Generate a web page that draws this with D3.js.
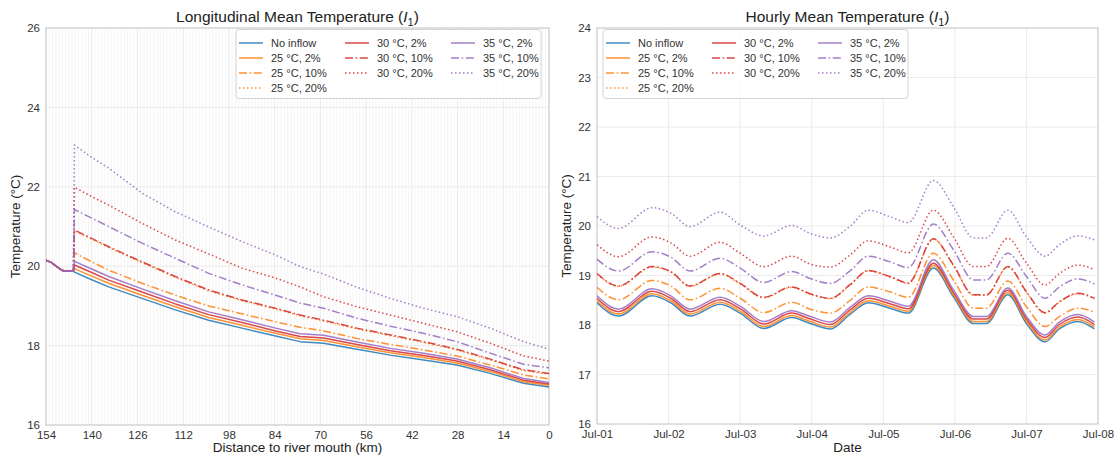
<!DOCTYPE html>
<html>
<head>
<meta charset="utf-8">
<script src="https://cdn.jsdelivr.net/npm/d3@7"></script>
<style>
  body { margin: 0; background: #fff; }
  svg { display: block; font-family: "Liberation Sans", Arial, sans-serif; }
</style>
</head>
<body>
<svg id="chart" width="1115" height="455"></svg>
<script>
// ---------- Series labels ----------
const seriesNames = [
  "No inflow", "25 °C, 2%", "25 °C, 10%", "25 °C, 20%",
  "30 °C, 2%", "30 °C, 10%", "30 °C, 20%",
  "35 °C, 2%", "35 °C, 10%", "35 °C, 20%"
];

// ---------- Longitudinal profile (distance to river mouth, km) ----------
const distanceKm = [154, 152.3, 150.7, 149.2, 147.9, 146.4, 145.6, 145.3, 140, 134.8, 124.6, 114.4, 104.2, 94.0, 83.7, 76.2, 69.0, 58.8, 48.6, 38.4, 28.2, 18.0, 7.8, 0];

const lonNoInflow = [20.15, 20.09, 19.99, 19.90, 19.87, 19.87, 19.88, 19.85, 19.66, 19.48, 19.19, 18.90, 18.64, 18.44, 18.24, 18.10, 18.06, 17.91, 17.76, 17.64, 17.51, 17.30, 17.05, 16.96];
const lon25_2  = [20.15, 20.09, 19.99, 19.90, 19.87, 19.87, 19.88, 19.94, 19.75, 19.57, 19.27, 18.98, 18.71, 18.51, 18.31, 18.17, 18.13, 17.97, 17.82, 17.70, 17.56, 17.35, 17.09, 17.00];
const lon25_10 = [20.15, 20.09, 19.99, 19.90, 19.87, 19.87, 19.88, 20.34, 20.11, 19.90, 19.57, 19.27, 19.00, 18.80, 18.60, 18.46, 18.37, 18.18, 18.03, 17.89, 17.74, 17.51, 17.26, 17.16];
const lon25_20 = [20.15, 20.09, 19.99, 19.90, 19.87, 19.87, 19.88, 20.89, 20.68, 20.47, 20.09, 19.72, 19.38, 19.13, 18.92, 18.75, 18.62, 18.42, 18.25, 18.08, 17.89, 17.64, 17.37, 17.28];
const lon30_2  = [20.15, 20.09, 19.99, 19.90, 19.87, 19.87, 19.88, 20.03, 19.84, 19.65, 19.35, 19.05, 18.78, 18.58, 18.37, 18.23, 18.19, 18.03, 17.87, 17.75, 17.61, 17.39, 17.13, 17.03];
const lon30_10 = [20.15, 20.09, 19.99, 19.90, 19.87, 19.87, 19.88, 20.91, 20.70, 20.49, 20.11, 19.74, 19.40, 19.15, 18.94, 18.77, 18.64, 18.44, 18.27, 18.10, 17.91, 17.66, 17.39, 17.30];
const lon30_20 = [20.15, 20.09, 19.99, 19.90, 19.87, 19.87, 19.88, 21.99, 21.75, 21.54, 21.08, 20.66, 20.31, 19.95, 19.70, 19.48, 19.23, 18.98, 18.77, 18.56, 18.35, 18.06, 17.74, 17.61];
const lon35_2  = [20.15, 20.09, 19.99, 19.90, 19.87, 19.87, 19.88, 20.12, 19.93, 19.74, 19.43, 19.13, 18.85, 18.65, 18.44, 18.30, 18.26, 18.09, 17.93, 17.81, 17.66, 17.44, 17.17, 17.07];
const lon35_10 = [20.15, 20.09, 19.99, 19.90, 19.87, 19.87, 19.88, 21.43, 21.21, 21.00, 20.58, 20.20, 19.82, 19.53, 19.27, 19.07, 18.94, 18.69, 18.49, 18.31, 18.10, 17.81, 17.53, 17.44];
const lon35_20 = [20.15, 20.09, 19.99, 19.90, 19.87, 19.87, 19.88, 23.05, 22.74, 22.47, 21.84, 21.37, 20.99, 20.62, 20.28, 19.99, 19.80, 19.47, 19.19, 18.94, 18.73, 18.44, 18.10, 17.91];

// ---------- Hourly series (days since Jul-01 00:00) ----------
const dateDays = [0, 0.30, 0.77, 1.03, 1.30, 1.72, 2.00, 2.33, 2.72, 2.98, 3.26, 3.54, 3.79, 4.09, 4.35, 4.70, 4.98, 5.26, 5.44, 5.74, 6.00, 6.26, 6.46, 6.72, 6.95];

const hrNoInflow = [18.45, 18.18, 18.59, 18.45, 18.18, 18.42, 18.24, 17.93, 18.15, 18.03, 17.92, 18.22, 18.45, 18.34, 18.24, 19.15, 18.57, 18.03, 18.03, 18.61, 18.03, 17.66, 17.92, 18.07, 17.92];
const hr25_2  = [18.49, 18.22, 18.63, 18.49, 18.22, 18.46, 18.28, 17.97, 18.19, 18.07, 17.96, 18.26, 18.49, 18.38, 18.28, 19.20, 18.61, 18.07, 18.07, 18.65, 18.07, 17.70, 17.96, 18.11, 17.96];
const hr25_10 = [18.76, 18.51, 18.90, 18.79, 18.51, 18.74, 18.54, 18.25, 18.46, 18.32, 18.24, 18.50, 18.77, 18.67, 18.56, 19.45, 18.91, 18.34, 18.34, 18.89, 18.37, 17.97, 18.17, 18.34, 18.26];
const hr25_20 = [19.03, 18.78, 19.17, 19.07, 18.78, 19.03, 18.83, 18.55, 18.76, 18.62, 18.53, 18.81, 19.09, 18.97, 18.84, 19.73, 19.20, 18.60, 18.60, 19.17, 18.66, 18.24, 18.46, 18.63, 18.53];
const hr30_2  = [18.54, 18.27, 18.68, 18.54, 18.27, 18.51, 18.33, 18.02, 18.24, 18.12, 18.01, 18.31, 18.54, 18.43, 18.33, 19.25, 18.66, 18.12, 18.12, 18.70, 18.12, 17.75, 18.01, 18.16, 18.01];
const hr30_10 = [19.04, 18.79, 19.18, 19.08, 18.79, 19.04, 18.84, 18.56, 18.77, 18.63, 18.54, 18.82, 19.10, 18.98, 18.85, 19.74, 19.21, 18.61, 18.61, 19.18, 18.67, 18.25, 18.47, 18.64, 18.54];
const hr30_20 = [19.62, 19.38, 19.78, 19.66, 19.39, 19.67, 19.45, 19.18, 19.39, 19.23, 19.17, 19.42, 19.70, 19.58, 19.46, 20.32, 19.78, 19.18, 19.18, 19.75, 19.25, 18.81, 19.04, 19.21, 19.12];
const hr35_2  = [18.59, 18.32, 18.73, 18.59, 18.32, 18.56, 18.38, 18.07, 18.29, 18.17, 18.06, 18.36, 18.59, 18.48, 18.38, 19.32, 18.71, 18.17, 18.17, 18.75, 18.17, 17.80, 18.06, 18.21, 18.06];
const hr35_10 = [19.33, 19.09, 19.48, 19.37, 19.09, 19.35, 19.15, 18.86, 19.08, 18.94, 18.84, 19.10, 19.39, 19.28, 19.16, 20.04, 19.52, 18.91, 18.91, 19.45, 18.98, 18.54, 18.77, 18.93, 18.83];
const hr35_20 = [20.19, 19.95, 20.37, 20.26, 19.99, 20.28, 20.02, 19.80, 20.01, 19.85, 19.76, 20.00, 20.32, 20.19, 20.07, 20.92, 20.39, 19.76, 19.76, 20.32, 19.78, 19.39, 19.62, 19.80, 19.72];

// ---------- Tick labels ----------
const distanceTicks = [154, 140, 126, 112, 98, 84, 70, 56, 42, 28, 14, 0];
const lonTempTicks = [16, 18, 20, 22, 24, 26];
const dateTickDays = [0, 1, 2, 3, 4, 5, 6, 7];
const dateTickLabels = ["Jul-01", "Jul-02", "Jul-03", "Jul-04", "Jul-05", "Jul-06", "Jul-07", "Jul-08"];
const hrTempTicks = [16, 17, 18, 19, 20, 21, 22, 23, 24];

// ---------- Styling ----------
const palette = { blue: "#1f77b4", orange: "#ff7f0e", red: "#d62728", purple: "#9467bd" };
const seriesColor = [palette.blue, palette.orange, palette.orange, palette.orange,
                     palette.red, palette.red, palette.red,
                     palette.purple, palette.purple, palette.purple];
const dashStyles = { solid: null, dashdot: "8,2.6,1.6,2.6", dotted: "1.5,2.5" };
const seriesDash = ["solid", "solid", "dashdot", "dotted", "solid", "dashdot", "dotted", "solid", "dashdot", "dotted"];

const lonSeries = [lonNoInflow, lon25_2, lon25_10, lon25_20, lon30_2, lon30_10, lon30_20, lon35_2, lon35_10, lon35_20];
const hrSeries  = [hrNoInflow, hr25_2, hr25_10, hr25_20, hr30_2, hr30_10, hr30_20, hr35_2, hr35_10, hr35_20];

const svg = d3.select("#chart");
const TEXT = "#333";
const GRID = "#ebebeb";
const SPINE = "#d0d0d0";

function drawPanel(opt) {
  const { x, y, xVals, series, xTicks, xTickFmt, yTicks, title, xLabel, minorX, legendX, curve } = opt;
  const [x0, x1] = x.range();
  const [y1, y0] = y.range();
  const g = svg.append("g");

  // minor vertical grid
  if (minorX) {
    g.append("g").selectAll("line").data(minorX).join("line")
      .attr("x1", d => x(d)).attr("x2", d => x(d))
      .attr("y1", y0).attr("y2", y1)
      .attr("stroke", "#f1f1f1").attr("stroke-width", 0.7);
  }
  // major grid
  g.append("g").selectAll("line").data(xTicks).join("line")
    .attr("x1", d => x(d)).attr("x2", d => x(d))
    .attr("y1", y0).attr("y2", y1)
    .attr("stroke", GRID).attr("stroke-width", 1);
  g.append("g").selectAll("line").data(yTicks).join("line")
    .attr("x1", x0).attr("x2", x1)
    .attr("y1", d => y(d)).attr("y2", d => y(d))
    .attr("stroke", GRID).attr("stroke-width", 1);

  // axes (labels only)
  const ax = g.append("g").attr("transform", `translate(0,${y1})`)
    .call(d3.axisBottom(x).tickValues(xTicks).tickFormat(xTickFmt).tickSize(0).tickPadding(6));
  const ay = g.append("g").attr("transform", `translate(${x0},0)`)
    .call(d3.axisLeft(y).tickValues(yTicks).tickSize(0).tickPadding(6));
  [ax, ay].forEach(a => {
    a.select(".domain").remove();
    a.selectAll("text").attr("fill", TEXT).attr("font-size", 11.5)
      .attr("font-family", "Liberation Sans, Arial, sans-serif");
  });

  // frame
  g.append("rect").attr("x", x0).attr("y", y0).attr("width", x1 - x0).attr("height", y1 - y0)
    .attr("fill", "none").attr("stroke", SPINE).attr("stroke-width", 1.2);

  // lines
  const clipId = "clip" + Math.round(x0);
  svg.append("defs").append("clipPath").attr("id", clipId)
    .append("rect").attr("x", x0).attr("y", y0).attr("width", x1 - x0).attr("height", y1 - y0);
  const line = d3.line().x((d, i) => x(xVals[i])).y(d => y(d)).curve(curve);
  g.append("g").attr("clip-path", `url(#${clipId})`)
    .selectAll("path").data(series).join("path")
    .attr("d", d => line(d))
    .attr("fill", "none")
    .attr("stroke", (d, i) => seriesColor[i])
    .attr("stroke-opacity", 0.85)
    .attr("stroke-width", 1.5)
    .attr("stroke-linejoin", "round")
    .attr("stroke-dasharray", (d, i) => dashStyles[seriesDash[i]]);

  // title
  const t = g.append("text").attr("x", (x0 + x1) / 2).attr("y", 22)
    .attr("text-anchor", "middle").attr("font-size", 15.5).attr("fill", "#222");
  t.append("tspan").text(title + " (");
  t.append("tspan").attr("font-style", "italic").text("I");
  t.append("tspan").attr("font-size", 11).attr("dy", 4).text("1");
  t.append("tspan").attr("dy", -4).text(")");

  // axis titles
  g.append("text").attr("x", (x0 + x1) / 2).attr("y", 452)
    .attr("text-anchor", "middle").attr("font-size", 13.5).attr("fill", "#222").text(xLabel);
  g.append("text").attr("transform", `translate(${x0 - 26},${(y0 + y1) / 2}) rotate(-90)`)
    .attr("text-anchor", "middle").attr("font-size", 13.5).attr("fill", "#222")
    .text("Temperature (°C)");

  // legend
  const lg = g.append("g").attr("transform", `translate(${legendX},29.5)`);
  lg.append("rect").attr("width", 305).attr("height", 69).attr("rx", 3)
    .attr("fill", "#fff").attr("fill-opacity", 0.85).attr("stroke", "#d4d4d4");
  const colStart = [0, 4, 7];
  const colX = [3, 109, 215];
  seriesNames.forEach((name, i) => {
    const c = i < 4 ? 0 : (i < 7 ? 1 : 2);
    const r = i - colStart[c];
    const ly = 13.5 + r * 15;
    lg.append("line").attr("x1", colX[c]).attr("x2", colX[c] + 24)
      .attr("y1", ly).attr("y2", ly)
      .attr("stroke", seriesColor[i]).attr("stroke-opacity", 0.85).attr("stroke-width", 1.5)
      .attr("stroke-dasharray", dashStyles[seriesDash[i]]);
    lg.append("text").attr("x", colX[c] + 32).attr("y", ly + 4)
      .attr("font-size", 11).attr("fill", TEXT).text(name);
  });
}

// Left panel: temperature along the river
drawPanel({
  x: d3.scaleLinear().domain([154, 0]).range([46, 549]),
  y: d3.scaleLinear().domain([16, 26]).range([425, 28]),
  xVals: distanceKm,
  series: lonSeries,
  xTicks: distanceTicks,
  xTickFmt: d => d,
  yTicks: lonTempTicks,
  title: "Longitudinal Mean Temperature",
  xLabel: "Distance to river mouth (km)",
  minorX: d3.range(0, 155, 1),
  legendX: 236,
  curve: d3.curveLinear
});

// Right panel: hourly temperature
drawPanel({
  x: d3.scaleLinear().domain([0, 7]).range([597, 1098]),
  y: d3.scaleLinear().domain([16, 24]).range([424, 28]),
  xVals: dateDays,
  series: hrSeries,
  xTicks: dateTickDays,
  xTickFmt: (d, i) => dateTickLabels[i],
  yTicks: hrTempTicks,
  title: "Hourly Mean Temperature",
  xLabel: "Date",
  minorX: null,
  legendX: 603,
  curve: d3.curveMonotoneX
});
</script>
</body>
</html>
